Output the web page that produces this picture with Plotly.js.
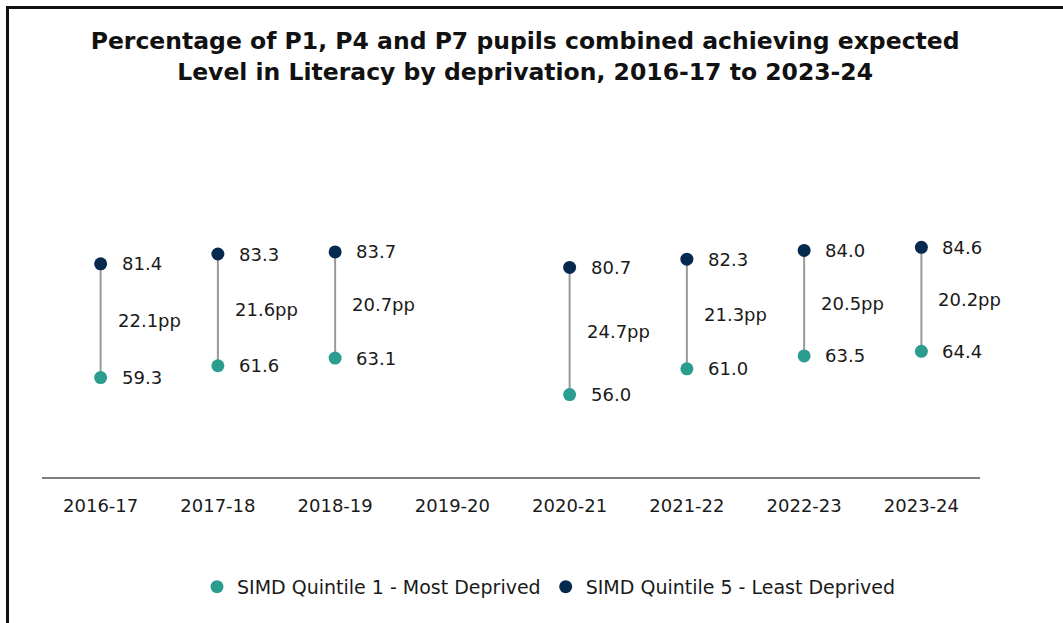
<!DOCTYPE html>
<html>
<head>
<meta charset="utf-8">
<script src="https://cdn.plot.ly/plotly-3.0.1.min.js"></script>
<style>
  body { margin: 0; background: #fff; }
  #chart { position: absolute; left: 0; top: 0; width: 1063px; height: 623px; }
  #frame { position: absolute; left: 6px; top: 6px; width: 1057px; height: 617px;
           border-top: 3px solid #111; border-left: 3px solid #111; pointer-events: none; }
</style>
</head>
<body>
<div id="chart"></div>
<div id="frame"></div>
<script>
// Datos
const years = ['2016-17', '2017-18', '2018-19', '2019-20', '2020-21', '2021-22', '2022-23', '2023-24'];
const q1 = [59.3, 61.6, 63.1, null, 56.0, 61.0, 63.5, 64.4];
const q5 = [81.4, 83.3, 83.7, null, 80.7, 82.3, 84.0, 84.6];
const gaps = [22.1, 21.6, 20.7, null, 24.7, 21.3, 20.5, 20.2];

const teal = '#2a9d8f';
const navy = '#06294f';
const fuente = 'DejaVu Sans, sans-serif';
const colTexto = '#1a1a1a';

// Líneas de unión entre quintiles
const linX = [], linY = [];
const notas = [];
years.forEach((yr, i) => {
    if (q1[i] == null || q5[i] == null) return;
    linX.push(yr, yr, null);
    linY.push(q1[i], q5[i], null);
    // etiquetas de valor
    [q1[i], q5[i]].forEach(v => notas.push({
        x: yr, y: v, text: v.toFixed(1), showarrow: false,
        xanchor: 'left', yanchor: 'middle', xshift: 19,
        font: { family: fuente, size: 18, color: colTexto }
    }));
    // etiqueta de brecha
    notas.push({
        x: yr, y: (q1[i] + q5[i]) / 2, text: gaps[i].toFixed(1) + 'pp', showarrow: false,
        xanchor: 'left', yanchor: 'middle', xshift: 15,
        font: { family: fuente, size: 18, color: colTexto }
    });
});

const data = [
    {
        x: linX, y: linY, mode: 'lines', showlegend: false, hoverinfo: 'skip',
        line: { color: '#999999', width: 2 }, connectgaps: false
    },
    {
        x: years, y: q1, mode: 'markers', name: 'SIMD Quintile 1 - Most Deprived',
        marker: { color: teal, size: 13 }
    },
    {
        x: years, y: q5, mode: 'markers', name: 'SIMD Quintile 5 - Least Deprived',
        marker: { color: navy, size: 13 }
    }
];

const layout = {
    width: 1063,
    height: 623,
    paper_bgcolor: '#ffffff',
    plot_bgcolor: '#ffffff',
    font: { family: fuente, color: colTexto },
    title: {
        text: 'Percentage of P1, P4 and P7 pupils combined achieving expected<br>Level in Literacy by deprivation, 2016-17 to 2023-24',
        font: { family: fuente, size: 23.5, weight: 'bold', color: '#111' },
        xref: 'container', x: 0.494, xanchor: 'center',
        yref: 'container', y: 0.921, yanchor: 'top'
    },
    margin: { l: 42, r: 83, t: 168, b: 146 },
    xaxis: {
        type: 'category',
        categoryorder: 'array',
        categoryarray: years,
        range: [-0.5, 7.5],
        showgrid: false,
        zeroline: false,
        showline: true,
        linecolor: '#7f7f7f',
        linewidth: 2,
        ticks: '',
        tickfont: { family: fuente, size: 18, color: colTexto },
        ticklabelstandoff: 11
    },
    yaxis: {
        range: [40, 100],
        visible: false,
        showgrid: false,
        zeroline: false
    },
    annotations: notas,
    legend: {
        orientation: 'h',
        xref: 'container', x: 0.516, xanchor: 'center',
        yref: 'container', y: 0.058, yanchor: 'middle',
        font: { family: fuente, size: 19, color: colTexto },
        itemwidth: 30
    },
    showlegend: true
};

Plotly.newPlot('chart', data, layout, { displayModeBar: false, staticPlot: true });
</script>
</body>
</html>
